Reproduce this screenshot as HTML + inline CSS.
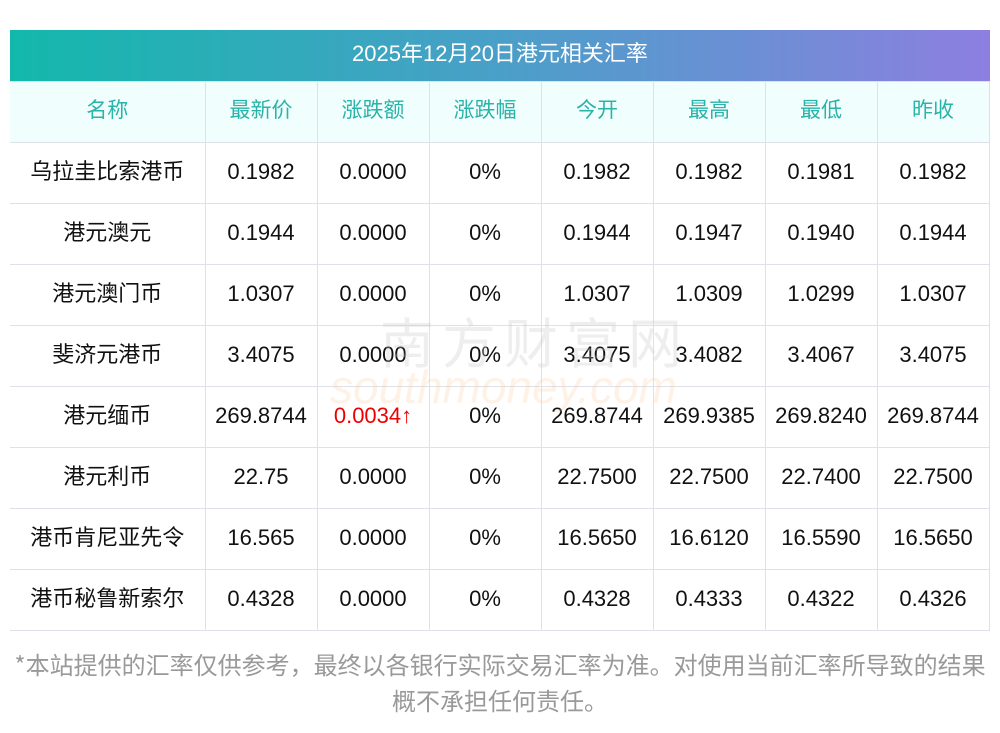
<!DOCTYPE html>
<html><head><meta charset="utf-8"><style>
body{margin:0;background:#fff;width:1000px;height:733px;overflow:hidden;font-family:"Liberation Sans","Noto Sans CJK SC",sans-serif;position:relative}
.title{position:absolute;left:10px;top:30px;width:980px;height:51px;background:linear-gradient(90deg,#13b8ab,#4a9fc8 50%,#8d7fe0);color:#fff;font-size:22px;line-height:47px;text-align:center}
table{position:absolute;left:10px;top:81px;border-collapse:collapse;table-layout:fixed;width:979px}
td,th{border:1px solid #dfe1ea;height:57px;padding:0 0 3px 0;text-align:center;font-size:22px;font-weight:normal;color:#111;white-space:nowrap}
tr td:first-child,tr th:first-child{border-left:none}
td:first-child,th{font-family:"Noto Sans CJK SC",sans-serif;padding-bottom:7px;height:53px}
th{background:#f0fffe;color:#2ab3a8;font-size:21px}
.r{color:#e00}
.note{position:absolute;left:0;width:1000px;top:646px;text-align:center;color:#999;font-size:24px;line-height:36px;font-family:"Noto Sans CJK SC",sans-serif}
.wm{position:absolute;left:380px;top:300px;font-size:54px;color:rgba(200,200,200,0.3);letter-spacing:8px;font-family:"Noto Sans CJK SC",sans-serif}
.wm2{position:absolute;left:330px;top:360px;font-size:46px;font-style:italic;color:rgba(250,200,150,0.25)}
</style></head><body>
<div class="title">2025年12月20日港元相关汇率</div>
<table>
<colgroup><col style="width:195px"><col style="width:112px"><col style="width:112px"><col style="width:112px"><col style="width:112px"><col style="width:112px"><col style="width:112px"><col style="width:112px"></colgroup>
<tr><th>名称</th><th>最新价</th><th>涨跌额</th><th>涨跌幅</th><th>今开</th><th>最高</th><th>最低</th><th>昨收</th></tr>
<tr><td>乌拉圭比索港币</td><td>0.1982</td><td>0.0000</td><td>0%</td><td>0.1982</td><td>0.1982</td><td>0.1981</td><td>0.1982</td></tr>
<tr><td>港元澳元</td><td>0.1944</td><td>0.0000</td><td>0%</td><td>0.1944</td><td>0.1947</td><td>0.1940</td><td>0.1944</td></tr>
<tr><td>港元澳门币</td><td>1.0307</td><td>0.0000</td><td>0%</td><td>1.0307</td><td>1.0309</td><td>1.0299</td><td>1.0307</td></tr>
<tr><td>斐济元港币</td><td>3.4075</td><td>0.0000</td><td>0%</td><td>3.4075</td><td>3.4082</td><td>3.4067</td><td>3.4075</td></tr>
<tr><td>港元缅币</td><td>269.8744</td><td class="r">0.0034↑</td><td>0%</td><td>269.8744</td><td>269.9385</td><td>269.8240</td><td>269.8744</td></tr>
<tr><td>港元利币</td><td>22.75</td><td>0.0000</td><td>0%</td><td>22.7500</td><td>22.7500</td><td>22.7400</td><td>22.7500</td></tr>
<tr><td>港币肯尼亚先令</td><td>16.565</td><td>0.0000</td><td>0%</td><td>16.5650</td><td>16.6120</td><td>16.5590</td><td>16.5650</td></tr>
<tr><td>港币秘鲁新索尔</td><td>0.4328</td><td>0.0000</td><td>0%</td><td>0.4328</td><td>0.4333</td><td>0.4322</td><td>0.4326</td></tr>
</table>
<div class="wm">南方财富网</div>
<div class="wm2">southmoney.com</div>
<div class="note">*本站提供的汇率仅供参考，最终以各银行实际交易汇率为准。对使用当前汇率所导致的结果<br>概不承担任何责任。</div>
</body></html>
